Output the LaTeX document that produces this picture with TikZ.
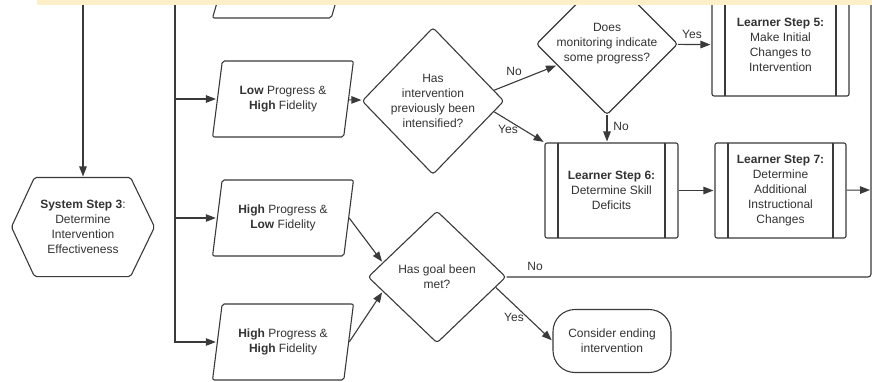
\documentclass[tikz,border=0pt]{standalone}
\usepackage{fontspec}
\setmainfont{Liberation Sans}
\usetikzlibrary{shapes.geometric,arrows.meta}
\definecolor{linegray}{HTML}{3A3A3A}
\definecolor{textgray}{HTML}{333333}
\definecolor{bandyellow}{HTML}{FDF0C9}
\tikzset{
  flow/.style={draw=linegray, line width=1.1pt, text=textgray, font=\fontsize{12}{15}\selectfont, align=center},
  datain/.style={flow, trapezium, trapezium left angle=77, trapezium right angle=103, trapezium stretches=true, minimum width=141pt, minimum height=76pt, rounded corners=2pt},
  decision/.style={flow, diamond, aspect=1, inner sep=0pt, rounded corners=3pt},
  stepbox/.style={flow, rectangle, rounded corners=2pt, minimum height=95pt,
    path picture={\draw[linegray, line width=1.1pt]
      ([xshift=13pt]path picture bounding box.north west) -- ([xshift=13pt]path picture bounding box.south west)
      ([xshift=-13pt]path picture bounding box.north east) -- ([xshift=-13pt]path picture bounding box.south east);}},
  endbox/.style={flow, rectangle, rounded corners=22pt, minimum width=118pt, minimum height=63pt},
  wire/.style={draw=linegray, line width=1.1pt},
  link/.style={wire, -{Triangle[length=10pt,width=7.5pt]}, shorten >=1pt},
  tag/.style={text=textgray, font=\fontsize{12}{15}\selectfont}
}
\begin{document}
\begin{tikzpicture}[x=1pt, y=-1pt]
    \useasboundingbox (0,0) rectangle (872,381);
    \clip (0,0) rectangle (872,381);
    \fill[white] (0,0) rectangle (872,381);
    % left column
    \node (sys) [flow, draw=none, minimum width=142pt, minimum height=98pt] at (83,227) {\textbf{System Step 3}:\\Determine\\Intervention\\Effectiveness};
    \draw[wire, rounded corners=2pt] (sys.west) -- ([xshift=23pt]sys.north west) -- ([xshift=-24pt]sys.north east) -- (sys.east) -- ([xshift=-24pt]sys.south east) -- ([xshift=23pt]sys.south west) -- cycle;
    \coordinate (systop) at (83,-10);
    \draw[link] (systop) -- (sys.north);
    % progress / fidelity inputs
    \coordinate (trunk) at (175,-60);
    \node (prev) [datain] at (283,-20) {};
    \node (lowhigh) [datain] at (283,99) {\textbf{Low} Progress \&\\\textbf{High} Fidelity};
    \node (highlow) [datain] at (283,218) {\textbf{High} Progress \&\\\textbf{Low} Fidelity};
    \node (highhigh) [datain] at (283,342) {\textbf{High} Progress \&\\\textbf{High} Fidelity};
    \draw[link] (trunk) |- (prev);
    \draw[link] (trunk) |- (lowhigh);
    \draw[link] (trunk) |- (highlow);
    \draw[link] (trunk) |- (highhigh);
    % decisions
    \node (intens) [decision, minimum width=142pt, minimum height=147pt] at (433,101) {Has\\intervention\\previously been\\intensified?};
    \node (monitor) [decision, minimum width=140pt, minimum height=138pt] at (607,44) {Does\\monitoring indicate\\some progress?};
    \node (goal) [decision, minimum width=138pt, minimum height=132pt] at (437,277) {Has goal been\\met?};
    % learner steps
    \node (ls5) [stepbox, minimum width=137pt, minimum height=102pt] at (780.5,45) {\textbf{Learner Step 5:}\\Make Initial\\Changes to\\Intervention};
    \node (ls6) [stepbox, minimum width=133pt] at (611.5,190.5) {\textbf{Learner Step 6:}\\Determine Skill\\Deficits};
    \node (ls7) [stepbox, minimum width=131pt] at (780.5,190.5) {\textbf{Learner Step 7:}\\Determine\\Additional\\Instructional\\Changes};
    \node (ending) [endbox] at (612,341) {Consider ending\\intervention};
    \coordinate (exit) at (871,190);
    \coordinate (loopup) at (871,-10);
    % connectors
    \draw[link] (lowhigh) -- (intens);
    \draw[link] (intens.10) -- (monitor.203);
    \draw[link] (intens.350) -- (ls6.north west);
    \draw[link] (monitor) -- (ls5);
    \draw[link] (monitor.south) -- (monitor.south |- ls6.north);
    \draw[link] (ls6) -- (ls7);
    \draw[link] (ls7) -- (exit);
    \draw[link] (highlow.east) -- (goal.165);
    \draw[link] (highhigh.east) -- (goal.195);
    \draw[link] (goal.350) -- (ending.west);
    \draw[wire, rounded corners=3pt] (goal.east) -| (loopup);
    % labels
    \node (noA) [tag] at (514,71) {No};
    \node (yesA) [tag] at (508,129) {Yes};
    \node (yesB) [tag] at (692,34) {Yes};
    \node (noB) [tag] at (621,126) {No};
    \node (noC) [tag] at (535,266) {No};
    \node (yesC) [tag] at (514,317) {Yes};
    % highlight band
    \fill[bandyellow] (37,0) rectangle (872,5);
\end{tikzpicture}
\end{document}
